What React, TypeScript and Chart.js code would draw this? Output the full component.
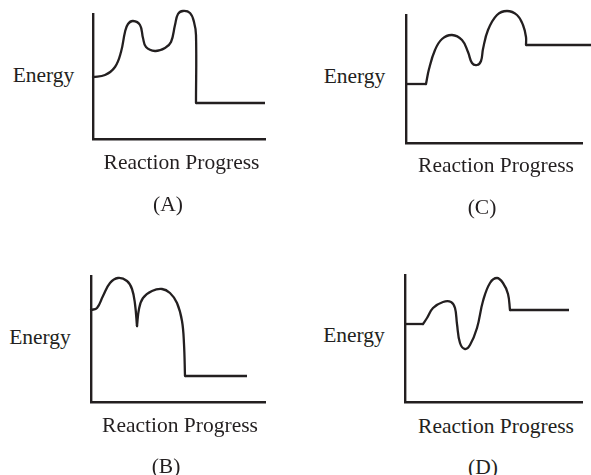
import React, { useEffect, useRef } from "react";
import { Chart, registerables } from "chart.js";

Chart.register(...registerables);

type Pt = [number, number];

// Text labels
const yLabel = "Energy";
const xLabel = "Reaction Progress";
const panelTags = ["(A)", "(B)", "(C)", "(D)"];

// Panel A: energy profile (x = progress, y = energy)
const aCurve: Pt[] = [[0, 62], [12, 64], [22, 72], [28, 87], [32, 107], [35, 115], [40, 118], [47, 114], [50, 101], [53, 92], [62, 88], [72, 91], [78, 97], [82, 114], [85, 125], [90, 128], [97, 126], [101, 117], [103, 104], [103, 36]];
const aProduct: Pt[] = [[103, 36], [172, 36]];

// Panel B
const bCurve1: Pt[] = [[0, 92], [6, 94], [12, 106], [19, 119], [27, 124], [36, 121], [41, 113], [44, 98], [46, 76]];
const bCurve2: Pt[] = [[46, 76], [48, 93], [52, 104], [61, 111], [71, 113], [79, 109], [86, 99], [91, 81], [93, 58], [94, 26]];
const bProduct: Pt[] = [[94, 26], [156, 26]];

// Panel C
const cReactant: Pt[] = [[0, 59], [20, 59]];
const cCurve: Pt[] = [[20, 59], [23, 74], [29, 93], [36, 104], [46, 108], [56, 103], [62, 91], [66, 80], [71, 78], [75, 82], [77, 94], [82, 113], [91, 128], [101, 132], [111, 128], [117, 118], [120, 106], [120, 98]];
const cProduct: Pt[] = [[120, 98], [185, 98]];

// Panel D
const dReactant: Pt[] = [[0, 78], [18, 78]];
const dCurve: Pt[] = [[18, 78], [22, 84], [28, 94], [38, 100], [46, 100], [50, 94], [52, 78], [55, 59], [60, 53], [65, 57], [72, 74], [78, 101], [85, 119], [92, 124], [98, 119], [103, 108], [105, 92]];
const dProduct: Pt[] = [[105, 92], [164, 92]];

const INK = "#231f20";
const FONT = "'Liberation Serif', 'Times New Roman', serif";
const FS = 21.5;
const PAD = 12;
const PADR = 14;

interface PanelSpec {
  ox: number; oy: number; w: number; h: number;
  curves: Pt[][]; straights: Pt[][];
}

const panels: PanelSpec[] = [
  { ox: 93, oy: 139, w: 172, h: 125, curves: [aCurve], straights: [aProduct] },
  { ox: 91, oy: 402, w: 174, h: 126, curves: [bCurve1, bCurve2], straights: [bProduct] },
  { ox: 406, oy: 143, w: 176, h: 128, curves: [cCurve], straights: [cReactant, cProduct] },
  { ox: 405, oy: 402, w: 177, h: 127, curves: [dCurve], straights: [dReactant, dProduct] },
];

interface LabelSpec { text: string; cx: number; base: number; }
const labels: LabelSpec[] = [
  { text: yLabel, cx: 43.5, base: 83.5 },
  { text: xLabel, cx: 181.5, base: 170 },
  { text: panelTags[0], cx: 168, base: 212 },
  { text: yLabel, cx: 40, base: 345 },
  { text: xLabel, cx: 180, base: 433 },
  { text: panelTags[1], cx: 166, base: 474 },
  { text: yLabel, cx: 354.5, base: 84.5 },
  { text: xLabel, cx: 496, base: 173.5 },
  { text: panelTags[2], cx: 482, base: 215.5 },
  { text: yLabel, cx: 354, base: 343 },
  { text: xLabel, cx: 496, base: 434 },
  { text: panelTags[3], cx: 483, base: 475 },
];

function Panel({ spec }: { spec: PanelSpec }) {
  const ref = useRef<HTMLCanvasElement | null>(null);
  useEffect(() => {
    if (!ref.current) return;
    const toData = (pts: Pt[]) => pts.map(([x, y]) => ({ x, y }));
    const datasets: any[] = [];
    spec.curves.forEach((c) =>
      datasets.push({
        data: toData(c), borderColor: INK, borderWidth: 2.3, pointRadius: 0,
        tension: 0.4, fill: false, clip: false, borderCapStyle: "round",
      })
    );
    spec.straights.forEach((s) =>
      datasets.push({
        data: toData(s), borderColor: INK, borderWidth: 2.3, pointRadius: 0,
        tension: 0, fill: false, clip: false,
      })
    );
    const chart = new Chart(ref.current, {
      type: "line",
      data: { datasets },
      options: {
        animation: false,
        responsive: false,
        devicePixelRatio: 1,
        layout: { padding: { left: PAD, right: PADR, top: PAD, bottom: PAD } },
        plugins: { legend: { display: false }, tooltip: { enabled: false }, title: { display: false } },
        scales: {
          x: {
            type: "linear", min: 0, max: spec.w,
            grid: { display: false, drawTicks: false },
            ticks: { display: false },
            border: { display: true, color: INK, width: 2.4 },
          },
          y: {
            type: "linear", min: 0, max: spec.h,
            grid: { display: false, drawTicks: false },
            ticks: { display: false },
            border: { display: true, color: INK, width: 2.4 },
          },
        },
      },
    });
    return () => chart.destroy();
  }, [spec]);
  const width = spec.w + PAD + PADR;
  const height = spec.h + 2 * PAD;
  return (
    <canvas
      ref={ref}
      width={width}
      height={height}
      style={{ position: "absolute", left: spec.ox - PAD, top: spec.oy - spec.h - PAD, width, height }}
    />
  );
}

export default function App() {
  return (
    <div style={{ position: "fixed", left: 0, top: 0, width: 591, height: 475, background: "#fff", overflow: "hidden" }}>
      {panels.map((p, i) => (
        <Panel key={i} spec={p} />
      ))}
      {labels.map((l, i) => (
        <div
          key={"l" + i}
          style={{
            position: "absolute",
            left: l.cx,
            top: l.base - FS * 0.8375,
            transform: "translateX(-50%)",
            fontFamily: FONT,
            fontSize: FS,
            lineHeight: 1,
            color: INK,
            whiteSpace: "nowrap",
          }}
        >
          {l.text}
        </div>
      ))}
    </div>
  );
}
